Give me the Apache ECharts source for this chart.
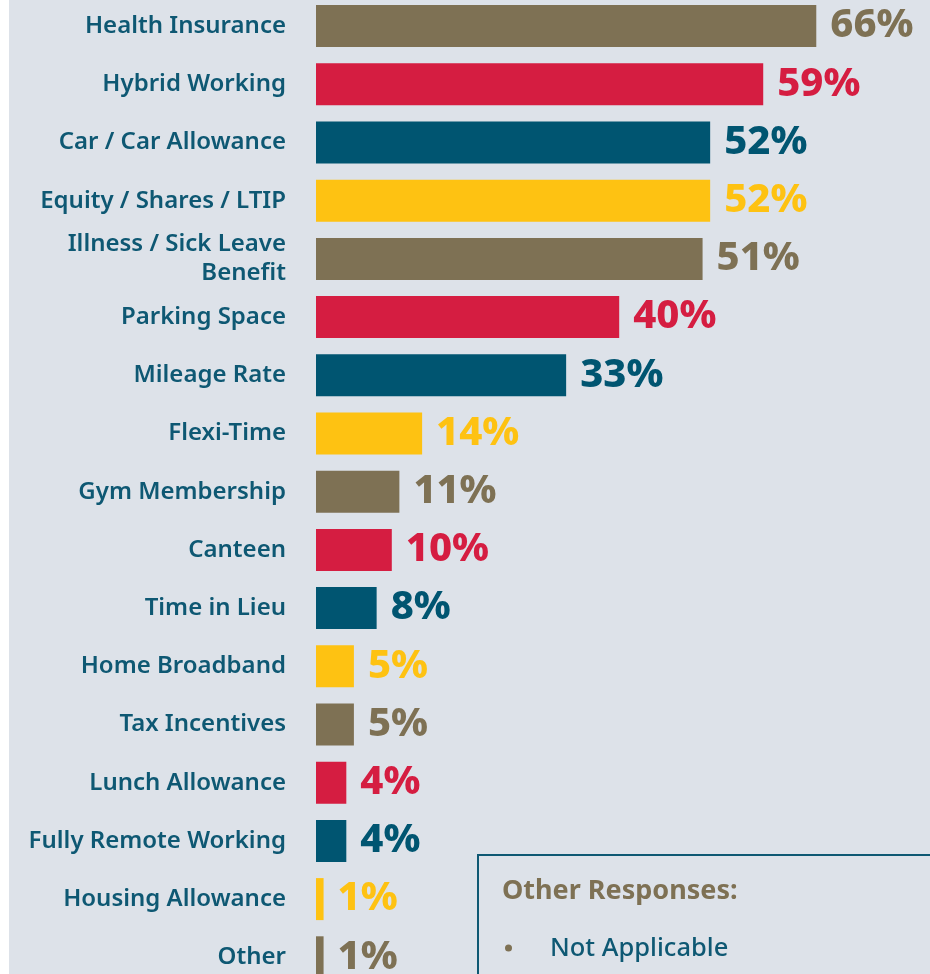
<!DOCTYPE html>
<html>
<head>
<meta charset="utf-8">
<script src="https://cdn.jsdelivr.net/npm/echarts@6/dist/echarts.min.js"></script>
<style>
  html, body { margin: 0; padding: 0; background: #dde2e9; overflow: hidden; }
  #strip { position: absolute; left: 0; top: 0; width: 9px; height: 974px; background: #ffffff; z-index: 2; }
  /* chart area is taller than the window so the last row runs off the bottom edge */
  #chart { position: absolute; left: 0; top: -3px; width: 930px; height: 992px; }
</style>
</head>
<body>
<div id="chart"></div>
<div id="strip"></div>
<script>
// Benefits offered, share of respondents (%)
const categories = [
  'Health Insurance', 'Hybrid Working', 'Car / Car Allowance', 'Equity / Shares / LTIP',
  'Illness / Sick Leave\nBenefit', 'Parking Space', 'Mileage Rate', 'Flexi-Time',
  'Gym Membership', 'Canteen', 'Time in Lieu', 'Home Broadband', 'Tax Incentives',
  'Lunch Allowance', 'Fully Remote Working', 'Housing Allowance', 'Other'
];
const values = [66, 59, 52, 52, 51, 40, 33, 14, 11, 10, 8, 5, 5, 4, 4, 1, 1];
const palette = ['#7e7154', '#d51d41', '#005571', '#fec212'];
const otherResponsesTitle = 'Other Responses:';
const otherResponses = ['Not Applicable'];

const labelColor = '#0e5873';
const fontFamily = '"Noto Sans", "Open Sans", sans-serif';
const dy = 3; // chart div sits 3px above the page top

const barData = values.map((v, i) => {
  const c = palette[i % palette.length];
  return { value: v, itemStyle: { color: c }, label: { color: c } };
});

const chart = echarts.init(document.getElementById('chart'), null, { renderer: 'canvas' });

const graphics = [
  { type: 'rect', z: 5, silent: true, shape: { x: 478, y: 855 + dy, width: 500, height: 200 },
    style: { fill: 'rgba(0,0,0,0)', stroke: '#0e5873', lineWidth: 2 } },
  { type: 'text', z: 6, silent: true, x: 502, y: 891 + dy,
    style: { text: otherResponsesTitle, fill: '#7e7154', font: 'bold 27px ' + fontFamily, verticalAlign: 'middle' } }
];
otherResponses.forEach((t, i) => {
  graphics.push({ type: 'circle', z: 6, silent: true, shape: { cx: 508.5, cy: 948 + dy + i * 40, r: 3.5 }, style: { fill: '#7e7154' } });
  graphics.push({ type: 'text', z: 6, silent: true, x: 550, y: 949 + dy + i * 40,
    style: { text: t, fill: labelColor, font: '500 25.5px ' + fontFamily, verticalAlign: 'middle' } });
});

chart.setOption({
  backgroundColor: '#dde2e9',
  animation: false,
  grid: { left: 316, top: 0, width: 606.4, height: 989.4, containLabel: false },
  xAxis: { type: 'value', min: 0, max: 80, show: false },
  yAxis: {
    type: 'category',
    data: categories,
    inverse: true,
    axisLine: { show: false },
    axisTick: { show: false },
    splitLine: { show: false },
    axisLabel: {
      margin: 30,
      color: labelColor,
      fontFamily: fontFamily,
      fontSize: 24,
      fontWeight: 600,
      lineHeight: 29,
      align: 'right'
    }
  },
  series: [{
    type: 'bar',
    data: barData,
    barWidth: 42,
    label: {
      show: true,
      position: 'right',
      distance: 14,
      formatter: p => p.value + '%',
      fontFamily: fontFamily,
      fontSize: 40,
      fontWeight: 800
    }
  }],
  graphic: graphics
});
</script>
</body>
</html>
